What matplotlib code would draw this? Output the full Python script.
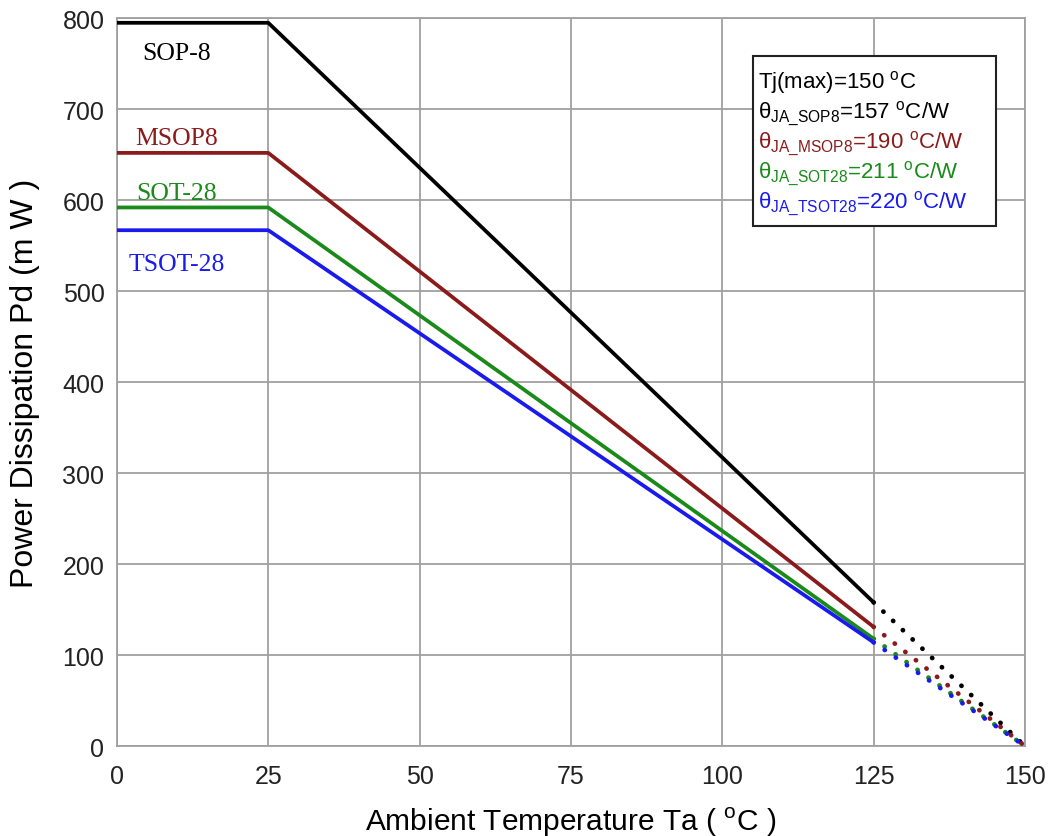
import matplotlib
matplotlib.use('Agg')
import matplotlib.pyplot as plt

# ---- data ----
temp_solid  = [0, 25, 125]
temp_dotted = [125, 150]

packages = ['SOP-8', 'MSOP8', 'SOT-28', 'TSOT-28']
colors   = ['#000000', '#8b1a1a', '#1a8a1a', '#1a1aee']
pd_flat  = [795, 652, 592, 567]     # mW up to 25 C
pd_125   = [158, 131, 118, 114]     # mW at 125 C
pd_150   = [0, 0, 0, 0]             # mW at 150 C

x_ticks = [0, 25, 50, 75, 100, 125, 150]
y_ticks = [0, 100, 200, 300, 400, 500, 600, 700, 800]

legend_lines = [
    ('Tj(max)=150 $^{\\mathregular{o}}$C', '#000000'),
    ('θ$_{\\mathregular{JA\\_SOP8}}$=157 $^{\\mathregular{o}}$C/W', '#000000'),
    ('θ$_{\\mathregular{JA\\_MSOP8}}$=190 $^{\\mathregular{o}}$C/W', '#8b1a1a'),
    ('θ$_{\\mathregular{JA\\_SOT28}}$=211 $^{\\mathregular{o}}$C/W', '#1a8a1a'),
    ('θ$_{\\mathregular{JA\\_TSOT28}}$=220 $^{\\mathregular{o}}$C/W', '#1a1aee'),
]
# ----------------------------------

plt.rcParams['font.family'] = ['Liberation Sans', 'DejaVu Sans']
plt.rcParams['mathtext.fontset'] = 'custom'
plt.rcParams['mathtext.rm'] = 'Liberation Sans'

fig = plt.figure(figsize=(10.49, 8.37), dpi=100)
ax = fig.add_axes([0.1115, 0.1075, 0.8655, 0.8695])

for name, c, flat, p125, p150 in zip(packages, colors, pd_flat, pd_125, pd_150):
    ax.plot(temp_solid, [flat, flat, p125], color=c, lw=2.7, zorder=3)
    ax.plot(temp_dotted, [p125, p150], color=c, lw=3.4,
            linestyle=(0, (0.05, 2.8)), dash_capstyle='round', zorder=3)

# package labels
lbl_pos = [(9.8, 762), (9.8, 668), (9.8, 608), (9.8, 530)]
for name, c, (lx, ly) in zip(packages, colors, lbl_pos):
    ax.text(lx, ly, name, color=c, fontsize=18.5, ha='center', va='center',
            family=['Liberation Serif', 'DejaVu Serif'])

# info box
ax.add_patch(plt.Rectangle((105.1, 572), 40.1, 186, facecolor='white',
                           edgecolor='#222222', lw=1.5, zorder=4))
for i, (t, c) in enumerate(legend_lines):
    ax.text(105.9, 724 - i * 33, t, color=c, fontsize=16,
            ha='left', va='baseline', zorder=5)

ax.set_xlim(0, 150)
ax.set_ylim(0, 800)
ax.set_xticks(x_ticks)
ax.set_yticks(y_ticks)
ax.grid(True, color='#a0a0a0', lw=1.3)
ax.set_axisbelow(True)
for s in ax.spines.values():
    s.set_color('#a0a0a0')
    s.set_linewidth(1.3)
ax.tick_params(length=0, labelsize=18, pad=9, colors='#222222')
ax.tick_params(axis='x', pad=13)

ax.set_xlabel('Ambient Temperature Ta ( $^{\\mathregular{o}}$C )', fontsize=21.5, labelpad=12)
ax.set_ylabel('Power Dissipation Pd (m W )', fontsize=23, labelpad=16)

fig.savefig('out.png', dpi=100)
